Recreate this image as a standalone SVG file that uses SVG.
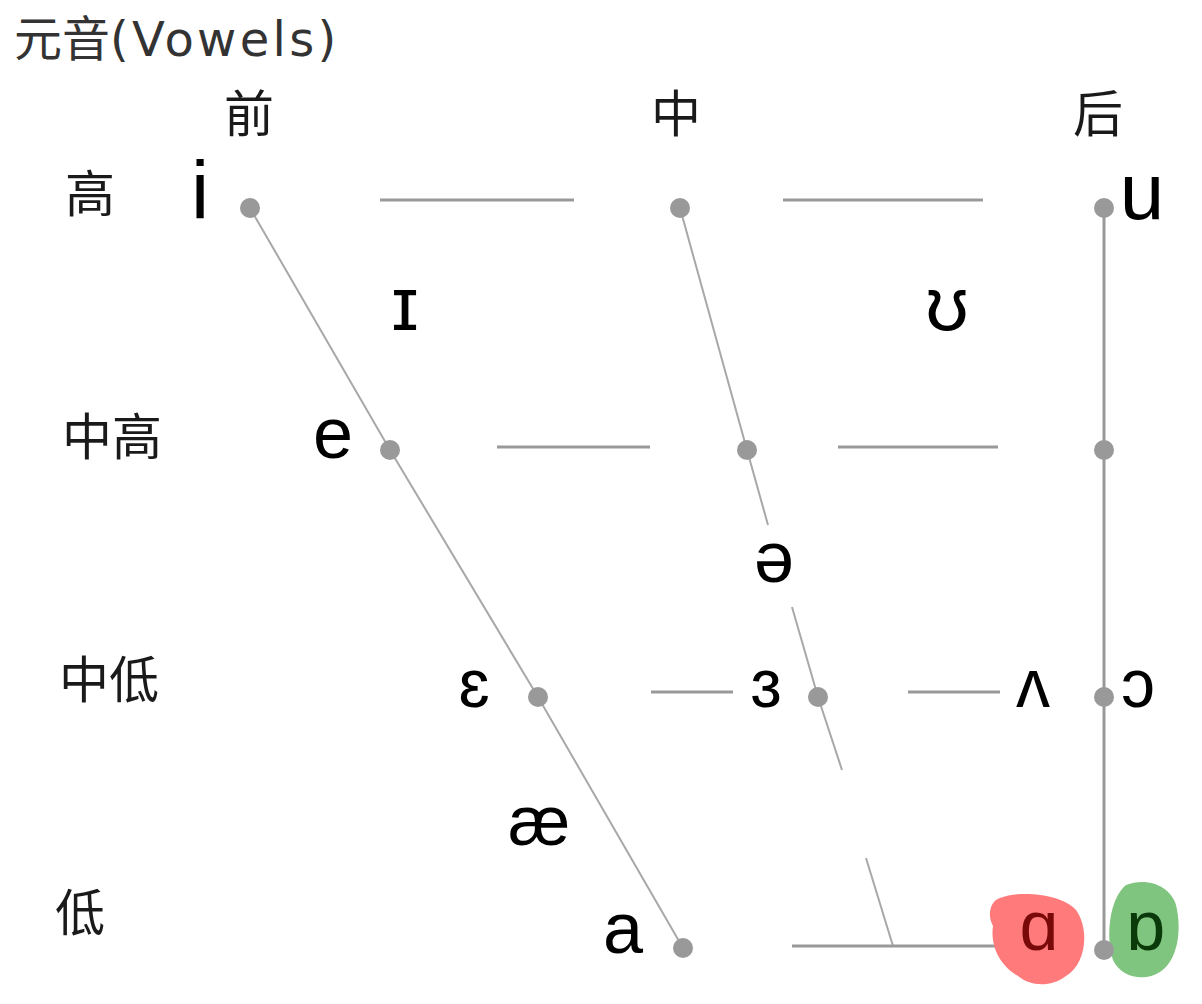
<svg xmlns="http://www.w3.org/2000/svg" width="1202" height="1004" viewBox="0 0 1202 1004">
<style>
.cjk{font-family:"Noto Sans CJK SC","Noto Sans",sans-serif;fill:#1a1a1a;text-anchor:middle}
.ipa{font-family:"Liberation Sans","DejaVu Sans",sans-serif;fill:#000;text-anchor:middle}
.h{stroke:#999;stroke-width:3;fill:none}
.d{stroke:#a8a8a8;stroke-width:2;fill:none}
.dot{fill:#999}
</style>
<rect width="1202" height="1004" fill="#fff"/>
<text x="14" y="56" style="fill:#333"><tspan font-size="48" style="font-family:'Noto Sans CJK SC',sans-serif">元音</tspan><tspan font-size="48" letter-spacing="3.3" style="font-family:'DejaVu Sans',sans-serif">(Vowels)</tspan></text>
<g id="headers">
<text class="cjk" x="249" y="132" font-size="50">前</text>
<text class="cjk" x="676" y="132" font-size="50">中</text>
<text class="cjk" x="1098" y="132" font-size="50">后</text>
<text class="cjk" x="90" y="212" font-size="50">高</text>
<text class="cjk" x="112" y="455" font-size="50">中高</text>
<text class="cjk" x="109" y="698" font-size="50">中低</text>
<text class="cjk" x="80" y="931" font-size="50">低</text>
</g>
<g id="connectors">
<polyline class="d" points="250,208 390,450 538,697 683,948"/>
<polyline class="d" points="680,208 747,450 768,525"/>
<polyline class="d" points="792,607 818,697 842,770"/>
<line class="d" x1="866" y1="858" x2="893" y2="946"/>
<line class="h" x1="1104" y1="208" x2="1104" y2="950"/>
<line class="h" x1="380" y1="200" x2="574" y2="200"/>
<line class="h" x1="783" y1="200" x2="983" y2="200"/>
<line class="h" x1="497" y1="447" x2="650" y2="447"/>
<line class="h" x1="838" y1="447" x2="998" y2="447"/>
<line class="h" x1="651" y1="692" x2="733" y2="692"/>
<line class="h" x1="908" y1="692" x2="1000" y2="692"/>
<line class="h" x1="792" y1="946" x2="1000" y2="946"/>
</g>
<g id="highlights">
<path fill="#ff7b7b" d="M1000 898 C1020 890 1062 894 1076 910 C1090 930 1086 964 1066 976 C1050 988 1030 986 1018 976 C1000 966 990 946 993 926 C987 915 990 901 1000 898 Z"/>
<path fill="#7fc47f" d="M1126 885 C1146 877 1170 885 1176 905 C1182 930 1178 960 1160 972 C1145 982 1121 978 1113 960 C1106 940 1108 900 1126 885 Z"/>
</g>
<g id="dots">
<circle class="dot" cx="250" cy="208" r="10"/>
<circle class="dot" cx="390" cy="450" r="10"/>
<circle class="dot" cx="538" cy="697" r="10"/>
<circle class="dot" cx="683" cy="948" r="10"/>
<circle class="dot" cx="680" cy="208" r="10"/>
<circle class="dot" cx="747" cy="450" r="10"/>
<circle class="dot" cx="818" cy="697" r="10"/>
<circle class="dot" cx="1104" cy="208" r="10"/>
<circle class="dot" cx="1104" cy="450" r="10"/>
<circle class="dot" cx="1104" cy="697" r="10"/>
<circle class="dot" cx="1104" cy="950" r="10"/>
</g>
<g id="vowels">
<text id="v-i" class="ipa" x="200" y="218" font-size="82">i</text>
<text id="v-u" class="ipa" x="1142" y="219" font-size="80">u</text>
<text id="v-I" class="ipa" x="405" y="330" font-size="76">ɪ</text>
<text id="v-U" class="ipa" x="947" y="330" font-size="76">ʊ</text>
<text id="v-e" class="ipa" x="333" y="458" font-size="72">e</text>
<text id="v-schwa" class="ipa" x="774" y="582" font-size="72">ə</text>
<text id="v-eps" class="ipa" x="474" y="707" font-size="68">ɛ</text>
<text id="v-rev" class="ipa" x="766" y="707" font-size="68">ɜ</text>
<text id="v-wedge" class="ipa" x="1033" y="707" font-size="68">ʌ</text>
<text id="v-open-o" class="ipa" x="1138" y="707" font-size="68">ɔ</text>
<text id="v-ae" class="ipa" x="539" y="845" font-size="70">æ</text>
<text id="v-a" class="ipa" x="623" y="953" font-size="72">a</text>
<text id="v-alpha" class="ipa" x="1039" y="950" font-size="70" style="fill:#7a0a0a">ɑ</text>
<text id="v-turned-alpha" class="ipa" x="1146" y="950" font-size="70" style="fill:#0a3a0a">ɒ</text>
</g>
</svg>
